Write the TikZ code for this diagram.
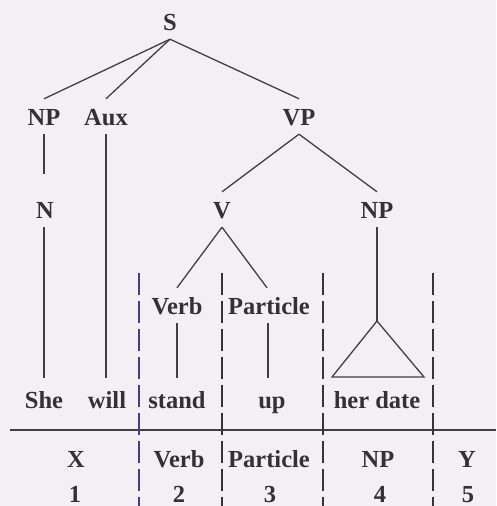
\documentclass[tikz,border=0pt]{standalone}
\usepackage{fontspec}
\setmainfont{Liberation Serif}
\begin{document}
\begin{tikzpicture}[x=1pt,y=-1pt,
  lab/.style={font=\fontsize{24.5}{26}\selectfont\bfseries, text=txtc, inner xsep=0pt, inner ysep=9pt, text height=17pt, text depth=0pt, anchor=base},
  word/.style={lab, inner ysep=13pt},
  num/.style={lab, inner ysep=0pt, text depth=0pt},
  tree/.style={draw=linec, line width=1.3pt},
  bar/.style={draw=barc, line width=2.8pt, dash pattern=on 22pt off 6pt}]
\definecolor{txtc}{RGB}{50,50,54}
\definecolor{linec}{RGB}{64,64,68}
\definecolor{barc}{RGB}{52,52,56}
\definecolor{barp}{RGB}{74,60,130}
\definecolor{bgc}{RGB}{242,240,244}
\fill[bgc] (0,0) rectangle (496,506);
\useasboundingbox (0,0) rectangle (496,506);
% tree labels
\node[lab] (S) at (170,30) {S};
\node[lab] (NPa) at (44,125) {NP};
\node[lab] (Aux) at (106,125) {Aux};
\node[lab] (VP) at (299,125) {VP};
\node[lab] (N) at (45,218) {N};
\node[lab] (V) at (222,218) {V};
\node[lab] (NPb) at (377,218) {NP};
\node[lab] (Verb) at (177,314) {Verb};
\node[lab] (Part) at (269,314) {Particle};
% words
\node[word] (she) at (44,408) {She};
\node[word] (will) at (107,408) {will};
\node[word] (stand) at (177,408) {stand};
\node[word] (up) at (272,408) {up};
\node[word] (herdate) at (377,408) {her date};
% bottom rows
\node[lab] (X) at (76,467) {X};
\node[lab] (VerbB) at (179,467) {Verb};
\node[lab] (PartB) at (269,467) {Particle};
\node[lab] (NPc) at (378,467) {NP};
\node[lab] (Y) at (467,467) {Y};
\node[num] (n1) at (75,502) {1};
\node[num] (n2) at (179,502) {2};
\node[num] (n3) at (270,502) {3};
\node[num] (n4) at (380,502) {4};
\node[num] (n5) at (468,502) {5};
% connectors
\draw[tree] (S.south) -- (NPa.north);
\draw[tree] (S.south) -- (Aux.north);
\draw[tree] (S.south) -- (VP.north);
\draw[tree] (NPa.south) -- ([yshift=18pt]NPa.south |- N.north);
\draw[tree] ([xshift=-1pt]N.south) -- ([xshift=-1pt]N.south |- she.north);
\draw[tree] (Aux.south) -- (Aux.south |- will.north);
\draw[tree] (VP.south) -- (V.north);
\draw[tree] (VP.south) -- (NPb.north);
\draw[tree] (V.south) -- (Verb.north);
\draw[tree] (V.south) -- ([xshift=-2pt]Part.north);
\draw[tree] (Verb.south) -- (Verb.south |- stand.north);
\draw[tree] ([xshift=-1pt]Part.south) -- ([xshift=-1pt]Part.south |- up.north);
\coordinate (tri) at (377,321);
\draw[tree] (NPb.south) -- (tri);
\draw[tree, line join=miter] (tri) -- (332,377) -- (424,377) -- cycle;
% baseline rule
\draw[draw=linec, line width=1.5pt] (10,430) -- (496,430);
% dashed dividers
\draw[bar, draw=barp] (139,273) -- (139,506);
\draw[bar] (222,273) -- (222,506);
\draw[bar] (323,273) -- (323,506);
\draw[bar] (433,273) -- (433,506);
\end{tikzpicture}
\end{document}
